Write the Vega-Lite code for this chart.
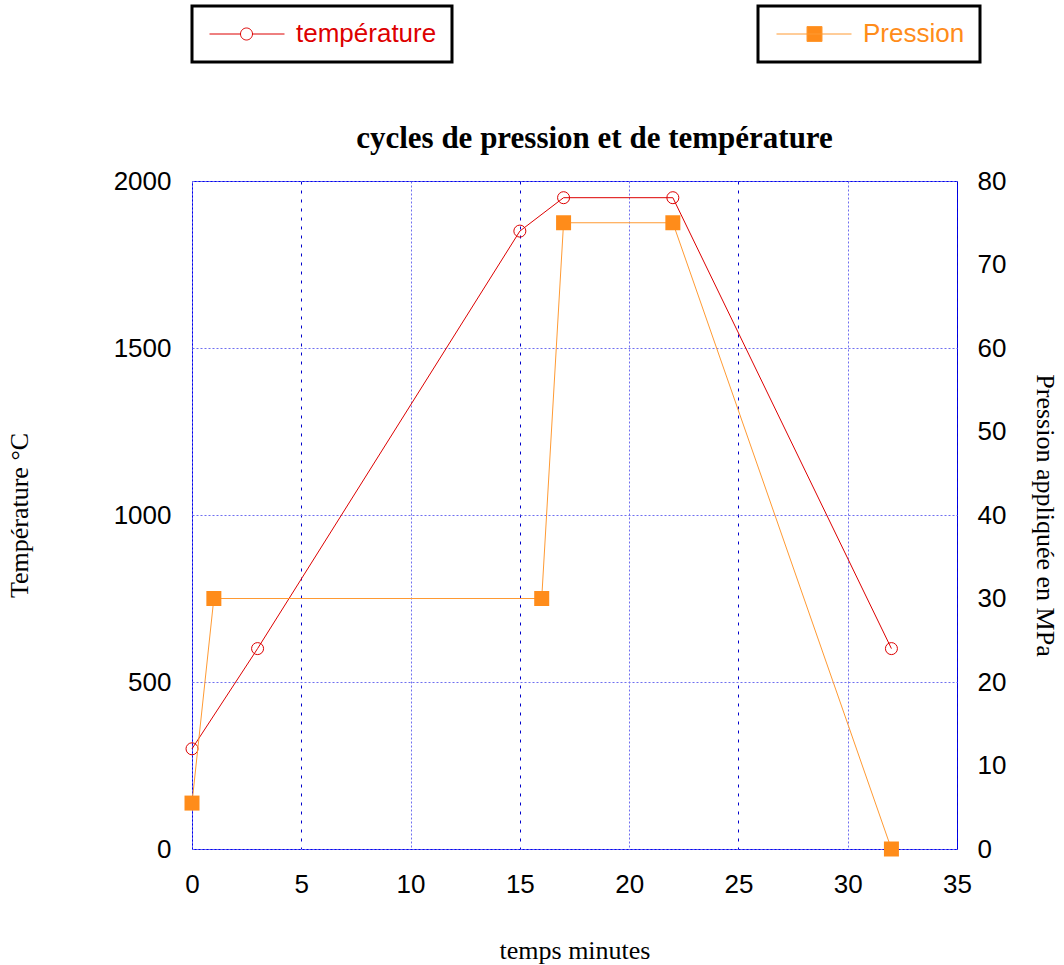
{
  "$schema": "https://vega.github.io/schema/vega-lite/v6.json",
  "autosize": {"type": "none"},
  "padding": {"left": 192, "top": 181, "right": 107, "bottom": 116},
  "width": 765,
  "height": 668,
  "background": "white",
  "config": {
    "view": {"stroke": "#0000ee", "strokeWidth": 1},
    "axis": {"domain": false, "ticks": false, "labelFont": "Liberation Sans", "labelFontSize": 26, "labelColor": "black", "titleFont": "Liberation Serif", "titleFontSize": 26, "titleFontWeight": "normal", "titleColor": "black", "gridWidth": 1, "labelFlush": false},
    "legend": {"labelFont": "Liberation Sans", "labelFontSize": 26, "strokeWidth": 3}
  },
  "title": {"text": "cycles de pression et de température", "font": "Liberation Serif", "fontSize": 31, "fontWeight": "bold", "anchor": "middle", "frame": "group", "baseline": "alphabetic", "offset": -174, "dx": 20, "color": "black"},
  "datasets": {
    "temperature": [
      {"t": 0, "temp": 300, "series": "température"},
      {"t": 3, "temp": 600, "series": "température"},
      {"t": 15, "temp": 1850, "series": "température"},
      {"t": 17, "temp": 1950, "series": "température"},
      {"t": 22, "temp": 1950, "series": "température"},
      {"t": 32, "temp": 600, "series": "température"}
    ],
    "pression": [
      {"t": 0, "p": 5.5, "series": "Pression"},
      {"t": 1, "p": 30, "series": "Pression"},
      {"t": 16, "p": 30, "series": "Pression"},
      {"t": 17, "p": 75, "series": "Pression"},
      {"t": 22, "p": 75, "series": "Pression"},
      {"t": 32, "p": 0, "series": "Pression"}
    ]
  },
  "layer": [
    {
      "data": {"name": "temperature"},
      "encoding": {
        "x": {"field": "t", "type": "quantitative", "scale": {"domain": [0, 35], "nice": false, "zero": false},
          "axis": {"title": "temps minutes", "values": [0, 5, 10, 15, 20, 25, 30, 35], "format": "d", "labelPadding": 22, "titlePadding": 40,
            "gridColor": {"condition": {"test": "datum.value % 10 === 5", "value": "#0000cc"}, "value": "#6f6ff0"},
            "gridDash": {"condition": {"test": "datum.value % 10 === 5", "value": [3, 6]}, "value": [2, 2]}}},
        "y": {"field": "temp", "type": "quantitative", "scale": {"domain": [0, 2000], "nice": false},
          "axis": {"orient": "left", "title": "Température °C", "values": [0, 500, 1000, 1500, 2000], "format": "d", "labelPadding": 21, "titlePadding": 81, "gridColor": "#6f6ff0", "gridDash": [2, 2]}}
      },
      "layer": [
        {"mark": {"type": "line", "color": "#dd0000", "strokeWidth": 1}},
        {"mark": {"type": "point", "shape": "circle", "filled": false, "size": 144, "strokeWidth": 1, "opacity": 1},
          "encoding": {"color": {"field": "series", "type": "nominal", "scale": {"range": ["#dd0000"]},
            "legend": {"title": null, "orient": "none", "legendX": 0, "legendY": -175, "padding": 15,
              "strokeColor": "black", "labelColor": "#dd0000", "labelOffset": 63,
              "symbolType": "M-2.1,0H4.1M6.5,0H12.9M4.1,0A1.2,1.2,0,1,1,6.5,0A1.2,1.2,0,1,1,4.1,0",
              "symbolSize": 100, "symbolStrokeColor": "#dd0000", "symbolFillColor": "transparent", "symbolStrokeWidth": 1,
              "encode": {"legend": {"update": {"strokeWidth": {"value": 3}}}}}}}}
      ]
    },
    {
      "data": {"name": "pression"},
      "encoding": {
        "x": {"field": "t", "type": "quantitative", "scale": {"domain": [0, 35], "nice": false, "zero": false}},
        "y": {"field": "p", "type": "quantitative", "scale": {"domain": [0, 80], "nice": false},
          "axis": {"orient": "right", "title": "Pression appliquée en MPa", "values": [0, 10, 20, 30, 40, 50, 60, 70, 80], "format": "d", "labelPadding": 20, "titlePadding": 26,
            "gridColor": "#0000cc", "gridDash": [3, 6],
            "gridOpacity": {"condition": {"test": "datum.value % 20 === 10", "value": 1}, "value": 0}}}
      },
      "layer": [
        {"mark": {"type": "line", "color": "#ff9a33", "strokeWidth": 1}},
        {"mark": {"type": "point", "shape": "square", "filled": true, "size": 225, "opacity": 1},
          "encoding": {"color": {"field": "series", "type": "nominal", "scale": {"range": ["#ff8c1a"]},
            "legend": {"title": null, "orient": "none", "legendX": 566, "legendY": -175, "padding": 15,
              "strokeColor": "black", "labelColor": "#ff8c1a", "labelOffset": 64,
              "symbolType": "M-1.9,0H13.1M4.2,-1.5H7.2V1.5H4.2Z",
              "symbolSize": 100, "symbolStrokeColor": "#ff9a33", "symbolFillColor": "#ff8c1a", "symbolStrokeWidth": 1,
              "encode": {"legend": {"update": {"strokeWidth": {"value": 3}}}}}}}}
      ]
    }
  ],
  "resolve": {"scale": {"y": "independent", "color": "independent"}, "axis": {"y": "independent"}, "legend": {"color": "independent"}}
}
